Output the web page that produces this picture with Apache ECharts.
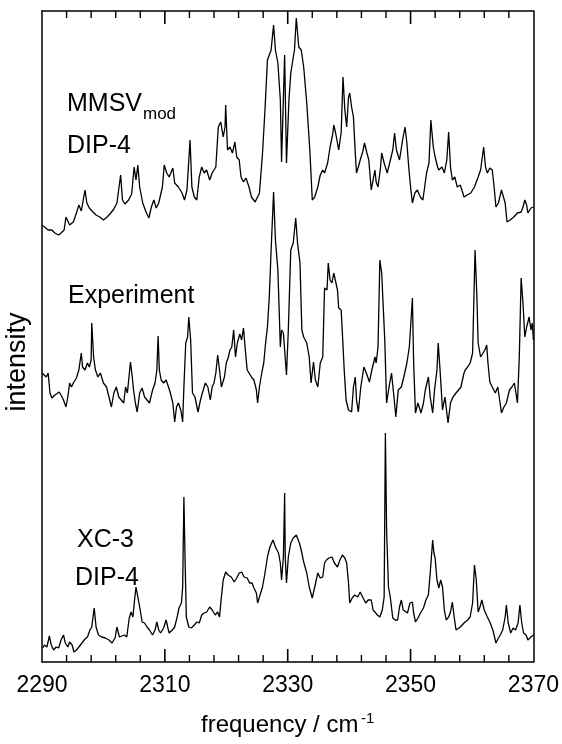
<!DOCTYPE html>
<html>
<head>
<meta charset="utf-8">
<script src="https://cdn.jsdelivr.net/npm/echarts@6/dist/echarts.min.js"></script>
<style>
  html, body { margin: 0; padding: 0; background: #fff; }
  #chart { width: 562px; height: 744px; }
</style>
</head>
<body>
<div id="chart"></div>
<script>
// Frequency axis (cm^-1), tick positions and tick labels
const xMin = 2290, xMax = 2370;
const yMin = 0, yMax = 651;
const tickLabels = [2290, 2310, 2330, 2350, 2370];
const majorTicks = [2310, 2330, 2350];
const minorTicks = [2294, 2298, 2302, 2306, 2314, 2318, 2322, 2326, 2334, 2338, 2342, 2346, 2354, 2358, 2362, 2366];

// MMSV_mod / DIP-4 simulated spectrum
const mmsvFreq = [2290.0,2290.4,2291.0,2291.6,2292.1,2292.7,2293.1,2293.6,2293.9,2294.2,2294.5,2295.1,2295.6,2296.0,2296.4,2297.0,2297.3,2297.7,2298.3,2298.8,2299.4,2300.0,2300.6,2301.2,2301.7,2302.2,2302.5,2302.8,2303.1,2303.5,2304.1,2304.6,2305.0,2305.3,2305.6,2305.9,2306.4,2307.0,2307.4,2307.8,2308.2,2308.6,2309.0,2309.6,2309.9,2310.3,2310.7,2311.3,2311.6,2312.2,2312.8,2313.2,2313.6,2314.1,2314.4,2314.8,2315.2,2315.6,2316.0,2316.4,2316.8,2317.3,2317.7,2318.3,2318.7,2319.1,2319.5,2319.8,2319.9,2320.2,2320.6,2321.0,2321.4,2321.7,2322.1,2322.4,2322.8,2323.2,2323.7,2324.1,2324.7,2325.0,2325.4,2325.9,2326.3,2326.7,2327.3,2327.7,2328.0,2328.4,2328.8,2329.0,2329.5,2329.8,2330.2,2330.5,2331.1,2331.4,2331.8,2332.2,2332.6,2333.1,2333.6,2334.0,2334.4,2334.9,2335.3,2335.7,2336.0,2336.5,2336.9,2337.3,2337.5,2337.8,2338.1,2338.3,2338.7,2339.0,2339.3,2339.6,2339.9,2340.1,2340.4,2340.7,2341.0,2341.2,2341.5,2341.8,2342.2,2342.5,2342.9,2343.2,2343.6,2343.9,2344.2,2344.4,2344.7,2345.1,2345.3,2345.7,2346.2,2346.6,2347.1,2347.4,2347.7,2348.2,2348.7,2349.1,2349.4,2349.7,2350.0,2350.3,2350.7,2351.1,2351.6,2352.0,2352.3,2352.6,2353.0,2353.3,2353.5,2353.7,2354.0,2354.4,2354.6,2355.1,2355.5,2355.9,2356.2,2356.5,2356.8,2357.2,2357.6,2358.1,2358.7,2359.2,2359.8,2360.4,2361.0,2361.4,2361.9,2362.2,2362.5,2362.9,2363.3,2363.6,2363.9,2364.3,2364.8,2365.1,2365.4,2365.7,2366.2,2366.8,2367.4,2368.0,2368.3,2368.6,2368.9,2369.1,2369.6,2370.0];
const mmsvInt = [45,43,40,40,37,35,37,40,53,49,45,48,57,65,59,80,67,62,58,55,53,50,53,57,61,67,68,95,70,66,70,76,103,90,105,83,67,57,52,63,70,62,67,83,105,97,93,102,87,83,77,70,80,130,83,73,70,93,103,97,100,90,97,103,143,148,133,143,165,120,123,117,128,113,110,93,88,92,83,73,68,67,77,117,160,210,220,245,220,207,170,108,215,107,170,197,220,252,223,220,203,167,120,70,73,83,95,100,97,107,123,135,145,137,127,120,137,193,160,143,173,177,163,153,117,97,103,110,118,127,117,110,80,90,100,88,83,102,117,107,97,107,120,137,120,110,130,143,127,103,83,67,77,80,73,70,83,97,107,150,152,123,113,103,100,103,97,110,138,103,90,93,83,85,73,75,77,83,93,100,123,103,97,102,100,83,63,67,80,82,67,48,50,53,57,58,63,70,65,57,62,63];

// Experimental spectrum
const expFreq = [2290.0,2290.3,2290.7,2291.0,2291.3,2291.6,2291.9,2292.1,2292.4,2292.8,2293.1,2293.5,2293.9,2294.2,2294.5,2294.8,2295.1,2295.3,2295.6,2296.0,2296.4,2296.6,2297.0,2297.4,2297.7,2298.0,2298.1,2298.4,2298.7,2299.1,2299.5,2300.0,2300.5,2300.9,2301.3,2301.7,2302.1,2302.5,2302.9,2303.3,2303.6,2303.9,2304.4,2304.7,2304.9,2305.2,2305.5,2305.9,2306.3,2306.7,2307.1,2307.5,2308.0,2308.4,2308.7,2308.9,2309.1,2309.4,2309.8,2310.2,2310.6,2310.9,2311.3,2311.6,2311.9,2312.2,2312.6,2312.9,2313.1,2313.4,2313.7,2313.9,2314.2,2314.5,2314.9,2315.4,2315.8,2316.1,2316.6,2317.0,2317.4,2317.7,2318.0,2318.3,2318.6,2318.9,2319.2,2319.7,2320.0,2320.3,2320.6,2320.9,2321.2,2321.5,2321.8,2322.2,2322.5,2322.8,2323.1,2323.4,2323.7,2324.1,2324.5,2324.9,2325.1,2325.4,2325.8,2326.1,2326.4,2326.7,2327.0,2327.3,2327.7,2328.0,2328.4,2328.8,2329.0,2329.3,2329.8,2330.1,2330.5,2330.9,2331.3,2331.6,2332.0,2332.3,2332.6,2333.1,2333.5,2333.8,2334.2,2334.5,2334.9,2335.3,2335.7,2336.0,2336.4,2336.6,2336.9,2337.2,2337.5,2337.8,2338.1,2338.3,2338.7,2338.9,2339.2,2339.5,2339.9,2340.4,2340.7,2341.0,2341.2,2341.5,2341.9,2342.4,2342.8,2343.3,2343.7,2344.2,2344.4,2344.7,2345.0,2345.3,2345.5,2345.8,2346.1,2346.5,2346.9,2347.3,2347.6,2348.0,2348.5,2348.9,2349.4,2349.8,2350.3,2350.5,2350.8,2351.2,2351.7,2352.1,2352.4,2352.9,2353.2,2353.6,2353.9,2354.3,2354.5,2354.8,2355.2,2355.6,2356.1,2356.5,2356.9,2357.4,2357.8,2358.2,2358.7,2358.9,2359.3,2359.7,2360.1,2360.5,2360.8,2361.0,2361.4,2361.8,2362.1,2362.4,2362.6,2362.9,2363.3,2363.8,2364.2,2364.8,2365.2,2365.6,2366.1,2366.5,2366.9,2367.4,2367.7,2368.0,2368.3,2368.6,2368.9,2369.3,2369.6,2369.8,2370.0];
const expInt = [67,68,63,67,47,42,40,45,43,48,45,40,33,43,57,53,57,58,62,70,87,73,70,77,73,80,117,83,70,63,67,57,53,43,33,47,53,43,40,37,53,47,78,63,50,37,28,47,52,43,40,37,50,57,70,104,70,60,57,60,53,47,37,18,33,37,30,18,53,97,103,123,100,47,43,28,40,47,57,53,40,53,57,67,85,70,53,63,77,82,90,93,110,83,97,106,100,112,90,70,67,63,60,50,37,53,68,77,97,113,143,190,248,200,170,93,110,107,65,110,190,197,222,197,177,110,103,97,83,57,78,60,53,77,83,152,150,177,160,157,167,165,150,132,130,107,70,40,30,28,53,63,40,28,53,73,67,58,70,83,77,93,180,167,168,100,37,53,67,43,23,50,53,63,77,93,142,77,27,37,27,37,50,63,43,27,50,70,97,70,30,43,17,37,43,47,50,53,67,70,73,77,87,190,143,97,83,87,90,95,77,58,53,47,53,27,33,37,50,53,57,37,83,162,137,103,113,123,110,117,100];

// XC-3 / DIP-4 simulated spectrum
const xcFreq = [2290.1,2290.4,2290.8,2291.2,2291.5,2291.9,2292.3,2292.7,2293.1,2293.5,2293.8,2294.2,2294.5,2294.9,2295.2,2295.6,2296.0,2296.5,2297.0,2297.4,2297.8,2298.1,2298.5,2298.8,2299.2,2299.7,2300.3,2300.9,2301.4,2301.9,2302.2,2302.6,2302.9,2303.4,2303.8,2304.2,2304.5,2304.8,2305.1,2305.3,2305.6,2305.9,2306.3,2306.7,2307.1,2307.5,2308.0,2308.4,2308.7,2309.0,2309.3,2309.8,2310.2,2310.5,2310.7,2311.2,2311.6,2312.0,2312.3,2312.7,2312.9,2313.1,2313.3,2313.5,2313.9,2314.3,2314.8,2315.2,2315.6,2316.0,2316.4,2316.8,2317.3,2317.7,2318.2,2318.6,2318.9,2319.2,2319.5,2319.9,2320.3,2320.8,2321.3,2321.7,2322.1,2322.5,2322.9,2323.4,2323.8,2324.2,2324.5,2324.9,2325.1,2325.4,2325.9,2326.3,2326.7,2327.1,2327.6,2328.0,2328.5,2328.8,2329.0,2329.3,2329.5,2329.6,2329.8,2330.1,2330.5,2330.9,2331.4,2331.9,2332.2,2332.6,2333.1,2333.5,2334.0,2334.4,2334.9,2335.3,2335.7,2336.0,2336.3,2336.7,2337.2,2337.6,2338.1,2338.5,2338.9,2339.3,2339.6,2339.9,2340.1,2340.5,2340.9,2341.4,2341.8,2342.2,2342.7,2343.1,2343.6,2343.9,2344.2,2344.6,2345.0,2345.4,2345.7,2345.9,2346.1,2346.4,2346.7,2347.1,2347.5,2347.9,2348.2,2348.5,2348.8,2349.1,2349.5,2349.9,2350.3,2350.5,2350.8,2351.2,2351.7,2352.1,2352.5,2352.9,2353.2,2353.6,2353.8,2354.0,2354.3,2354.6,2354.9,2355.2,2355.5,2355.8,2356.2,2356.5,2356.8,2357.1,2357.4,2357.7,2358.1,2358.7,2359.3,2359.7,2360.1,2360.4,2360.7,2361.0,2361.3,2361.6,2362.0,2362.5,2362.9,2363.4,2363.9,2364.3,2364.6,2365.0,2365.4,2365.6,2365.9,2366.3,2366.7,2367.1,2367.5,2367.8,2368.1,2368.4,2368.8,2369.1,2369.6,2370.0];
const xcInt = [14,17,15,26,17,12,15,14,22,27,19,15,20,17,10,12,15,19,23,25,32,35,54,35,27,25,24,22,19,24,35,25,24,27,25,44,50,45,64,75,65,55,40,39,35,32,27,32,40,32,29,34,42,34,29,32,35,45,54,59,75,165,99,45,35,34,37,40,39,47,49,50,55,52,47,50,45,65,82,90,87,85,80,84,89,90,85,84,79,79,74,69,59,65,75,89,105,115,122,115,109,99,82,105,169,105,79,105,119,124,127,119,112,100,89,75,64,75,89,84,85,99,102,104,105,99,95,102,107,104,99,79,59,64,67,65,70,65,59,62,62,52,50,47,45,52,65,229,132,75,65,44,42,42,55,62,52,50,49,59,60,49,40,44,50,54,62,67,89,122,109,104,82,74,82,75,52,42,45,50,60,45,32,30,35,39,42,45,59,97,82,50,55,62,52,45,40,32,19,24,27,32,45,57,39,29,34,32,39,57,39,29,27,22,25,27];

// Vertical stacking: each trace is lifted by its own baseline
const stackOffset = { mmsv: 392, exp: 222, xc: 0 };

function pairs(freq, vals, off) {
  return freq.map((f, i) => [f, vals[i] + off]);
}

const FONT = '"Liberation Sans", Arial, Helvetica, sans-serif';

const chart = echarts.init(document.getElementById('chart'), null, { renderer: 'canvas' });

const frameX = (pos, showLabels) => ({
  type: 'value', position: pos, min: xMin, max: xMax, interval: 20,
  axisLine: { show: true, onZero: false, lineStyle: { color: '#000', width: 1.5 } },
  axisTick: { show: false },
  splitLine: { show: false },
  axisLabel: {
    show: showLabels, margin: 12, color: '#000', fontSize: 23, fontFamily: FONT,
    formatter: v => (tickLabels.indexOf(v) >= 0 ? String(v) : '')
  }
});

const frameY = (pos) => ({
  type: 'value', position: pos, min: yMin, max: yMax,
  axisLine: { show: true, onZero: false, lineStyle: { color: '#000', width: 1.5 } },
  axisTick: { show: false }, axisLabel: { show: false }, splitLine: { show: false }
});

// Inward tick marks along one frame edge (edgeValue = yMin for the bottom edge,
// yMax for the top one), each placed through the axis scale.
const tickSeries = (ticks, edgeValue, len, width) => ({
  type: 'custom',
  coordinateSystem: 'cartesian2d',
  xAxisIndex: 0,
  yAxisIndex: 0,
  silent: true,
  clip: false,
  z: 10,
  data: ticks.map(v => [v, edgeValue]),
  renderItem: (params, api) => {
    const p = api.coord([api.value(0), api.value(1)]);
    const step = edgeValue === yMin ? -len : len;
    return {
      type: 'line',
      shape: { x1: p[0], y1: p[1], x2: p[0], y2: p[1] + step },
      style: { stroke: '#000', lineWidth: width, fill: null }
    };
  }
});

const lineSeries = (name, data) => ({
  name,
  type: 'line',
  data,
  showSymbol: false,
  symbol: 'none',
  smooth: false,
  lineStyle: { color: '#000', width: 1.3 },
  z: 3
});

const label = (text, x, y, size) => ({
  type: 'text', x, y,
  style: { text, font: size + 'px ' + FONT, fill: '#000', align: 'left', verticalAlign: 'middle' }
});

chart.setOption({
  animation: false,
  backgroundColor: '#fff',
  grid: { left: 42, right: 26, top: 11, bottom: 82 },
  xAxis: [frameX('bottom', true), frameX('top', false)],
  yAxis: [frameY('left'), frameY('right')],
  series: [
    lineSeries('MMSVmod DIP-4', pairs(mmsvFreq, mmsvInt, stackOffset.mmsv)),
    lineSeries('Experiment', pairs(expFreq, expInt, stackOffset.exp)),
    lineSeries('XC-3 DIP-4', pairs(xcFreq, xcInt, stackOffset.xc)),
    tickSeries(majorTicks, yMin, 13, 1.6),
    tickSeries(majorTicks, yMax, 13, 1.6),
    tickSeries(minorTicks, yMin, 7, 1.4),
    tickSeries(minorTicks, yMax, 7, 1.4)
  ],
  graphic: [
    label('MMSV', 67, 104.6, 25),
    label('mod', 143, 114, 17),
    label('DIP-4', 67, 146.6, 25),
    label('Experiment', 68, 296.6, 25),
    label('XC-3', 77, 540, 25),
    label('DIP-4', 75, 578, 25),
    { type: 'text', x: 18, y: 362, rotation: Math.PI / 2,
      style: { text: 'intensity', font: '27px ' + FONT, fill: '#000', align: 'center', verticalAlign: 'middle' } },
    label('frequency / cm', 201, 725.5, 24),
    label('-1', 361, 718.5, 15)
  ]
});
</script>
</body>
</html>
